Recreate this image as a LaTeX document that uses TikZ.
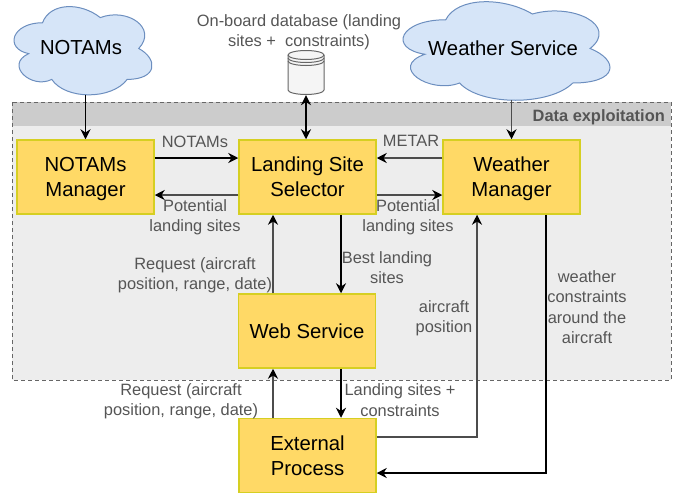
\documentclass[tikz,border=0pt]{standalone}
\usepackage{fontspec}
\setmainfont{Liberation Sans}
\usetikzlibrary{arrows.meta}
\definecolor{boxfill}{HTML}{FFD966}
\definecolor{boxline}{HTML}{D6CF22}
\definecolor{cloudfill}{HTML}{D6E5F8}
\definecolor{cloudline}{HTML}{6C8EBF}
\definecolor{labelgray}{HTML}{555555}
\tikzset{
  procbox/.style={draw=boxline, fill=boxfill, line width=1.5pt, minimum width=137pt, minimum height=74pt,
    align=center, inner sep=0pt, text depth=0pt, font=\fontsize{20.3}{25}\selectfont, execute at begin node=\vspace*{4.5pt}},
  cloudtext/.style={inner sep=0pt, font=\fontsize{20.3}{25}\selectfont},
  lbl/.style={text=labelgray, align=center, inner sep=0pt, font=\fontsize{16.4}{20.4}\selectfont},
  conn/.style={-{Stealth[length=10pt,width=10pt,color=black]}, line width=1.2pt, draw=black},
  connb/.style={conn, line width=1.6pt, draw=black!70},
}
% cloud outline: left, top, width, height
\newcommand{\cloudat}[4]{
  \begin{scope}[shift={(#1,#2)}, x=#3pt, y=-#4pt]
    \draw[fill=cloudfill, draw=cloudline, line width=1pt] (.25,.25)
      .. controls (.05,.25) and (0,.5) .. (.16,.55)
      .. controls (0,.66) and (.18,.9) .. (.31,.8)
      .. controls (.4,1) and (.7,1) .. (.8,.8)
      .. controls (1,.8) and (1,.6) .. (.875,.5)
      .. controls (1,.3) and (.8,.1) .. (.625,.2)
      .. controls (.5,.05) and (.3,.05) .. (.25,.25) -- cycle;
  \end{scope}
}
\begin{document}
\begin{tikzpicture}[x=1pt, y=-1pt]
  \useasboundingbox (0,0) rectangle (682,493);

  % data exploitation area
  \fill[black!7] (12,102) rectangle (671,380);
  \fill[black!20] (12,102) rectangle (671,126);
  \draw[dash pattern=on 4pt off 3pt, draw=black!60, line width=0.9pt] (12,102) rectangle (671,380);
  \node[lbl, anchor=east, font=\fontsize{16.4}{20}\selectfont\bfseries] (area) at (665,117) {Data exploitation};

  % clouds
  \cloudat{4}{-3}{154}{103}
  \cloudat{388}{-9}{231}{115}
  \node[cloudtext] (notams) at (81,48) {NOTAMs};
  \node[cloudtext] (weather) at (503,48) {Weather Service};
  \coordinate (notamsb) at (85.5,95);
  \coordinate (weatherb) at (511.5,100);

  % database
  \draw[fill=black!4, draw=black!60, line width=1pt] (288,55) -- (288,90)
    arc[start angle=180, end angle=360, x radius=18pt, y radius=4.5pt] -- (324,55)
    arc[start angle=0, end angle=180, x radius=18pt, y radius=4.5pt];
  \draw[draw=black!60, line width=1pt] (288,55) arc[start angle=180, end angle=360, x radius=18pt, y radius=4.5pt];
  \draw[draw=black!60, line width=1pt] (288,58) arc[start angle=180, end angle=360, x radius=18pt, y radius=4.5pt];
  \draw[draw=black!60, line width=1pt] (288,61) arc[start angle=180, end angle=360, x radius=18pt, y radius=4.5pt];
  \node[minimum width=36pt, minimum height=44pt, inner sep=0pt] (db) at (306,73) {};

  % boxes
  \node[procbox] (nm)  at (85.5,177)  {NOTAMs\\Manager};
  \node[procbox] (lss) at (307.5,177) {Landing Site\\Selector};
  \node[procbox] (wm)  at (511.5,177) {Weather\\Manager};
  \node[procbox, execute at begin node={}] (ws)  at (307,331) {Web Service};
  \node[procbox] (ep)  at (307.5,455.5) {External\\Process};

  % connectors
  \draw[conn] (notamsb) -- (nm.north);
  \draw[connb, line width=1.4pt] (weatherb) -- (wm.north);
  \draw[conn, {Stealth[length=10pt,width=10pt]}-{Stealth[length=10pt,width=10pt]}] (db.south) -- (lss.north -| db.south);
  \draw[conn]  ([yshift=19pt]nm.east) -- ([yshift=19pt]lss.west);
  \draw[connb] ([yshift=-18pt]lss.west) -- ([yshift=-18pt]nm.east);
  \draw[connb] ([yshift=19pt]wm.west) -- ([yshift=19pt]lss.east);
  \draw[connb] ([yshift=-18pt]lss.east) -- ([yshift=-18pt]wm.west);
  \draw[connb] ([xshift=-34pt]ws.north) -- ([xshift=-34.5pt]lss.south);
  \draw[conn]  ([xshift=33.5pt]lss.south) -- ([xshift=34pt]ws.north);
  \draw[connb] ([xshift=-34.5pt]ep.north) -- ([xshift=-34pt]ws.south);
  \draw[conn]  ([xshift=34pt]ws.south) -- ([xshift=33.5pt]ep.north);
  \draw[connb] ([yshift=18.5pt]ep.east) -| ([xshift=-34.5pt]wm.south);
  \draw[conn]  ([xshift=34.5pt]wm.south) |- ([yshift=-17.5pt]ep.east);

  % labels
  \node[lbl] (dbtext)  at (299,32)  {On-board database (landing\\sites + \ constraints)};
  \node[lbl] (ltopnm)  at (195,142) {NOTAMs};
  \node[lbl] (lmetar)  at (411,141) {METAR};
  \node[lbl] (lpotl)   at (195,217) {Potential\\landing sites};
  \node[lbl] (lpotr)   at (408,217) {Potential\\landing sites};
  \node[lbl] (lreqa)   at (195,275) {Request (aircraft\\position, range, date)};
  \node[lbl] (lbest)   at (387,267.5) {Best landing\\sites};
  \node[lbl] (lacpos)  at (444,318) {aircraft\\position};
  \node[lbl] (lcons)   at (587,307) {weather\\constraints\\around the\\aircraft};
  \node[lbl] (lreqb)   at (181,401) {Request (aircraft\\position, range, date)};
  \node[lbl] (lsites)  at (400,400) {Landing sites +\\constraints};
\end{tikzpicture}
\end{document}
